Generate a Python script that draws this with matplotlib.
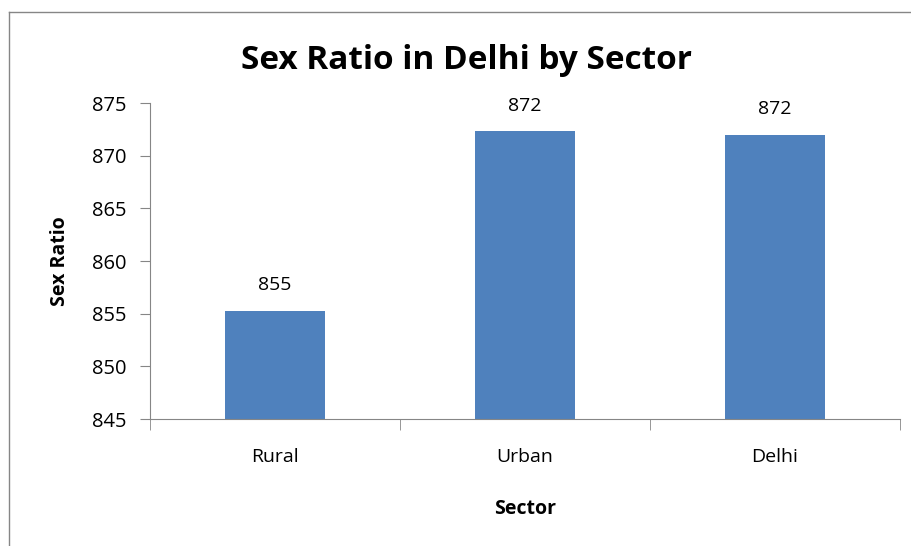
import matplotlib
matplotlib.use("Agg")
import matplotlib.pyplot as plt
from matplotlib.lines import Line2D

categories = ["Rural", "Urban", "Delhi"]
values = [855.3, 872.3, 872.0]
labels = ["855", "872", "872"]
yticks = [845, 850, 855, 860, 865, 870, 875]

plt.rcParams['font.family'] = ['Open Sans', 'DejaVu Sans']

W, H = 912, 546
fig = plt.figure(figsize=(W/100, H/100), dpi=100)
ax = fig.add_axes([150/W, 1-419/H, 750/W, 316/H])

x = list(range(len(categories)))
ax.bar(x, values, width=0.4, color="#4F81BD", bottom=0)
ax.set_ylim(845, 875)
ax.set_xlim(-0.5, len(categories)-0.5)
ax.set_yticks(yticks)
ax.set_yticklabels([str(t) for t in yticks], fontsize=14.5)
ax.set_xticks(x)
ax.set_xticklabels(categories, fontsize=14)
ax.tick_params(axis='x', length=0, pad=21)
ax.set_xticks([i - 0.5 for i in range(len(categories)+1)], minor=True)
ax.tick_params(axis='x', which='minor', length=8, color="#868686", direction='out')
ax.tick_params(axis='y', length=7, color="#868686", pad=10, direction='out')
for s in ['top', 'right']:
    ax.spines[s].set_visible(False)
for s in ['left', 'bottom']:
    ax.spines[s].set_color("#868686")

for xi, v, lab in zip(x, values, labels):
    ax.annotate(lab, (xi, v), xytext=(0, 12), textcoords='offset points',
                ha='center', va='bottom', fontsize=14)

ax.set_ylabel("Sex Ratio", fontsize=14, fontweight='bold', labelpad=16)
ax.set_xlabel("Sector", fontsize=14, fontweight='bold', labelpad=24)
fig.text(467/W, 1-60/H, "Sex Ratio in Delhi by Sector", fontsize=24,
         fontweight='bold', ha='center', va='center')

fig.add_artist(Line2D([9/W, 9/W], [0, 1-12/H], transform=fig.transFigure, color="#868686", lw=1))
fig.add_artist(Line2D([9/W, 1], [1-12/H, 1-12/H], transform=fig.transFigure, color="#868686", lw=1))

fig.savefig("out.png", dpi=100)
